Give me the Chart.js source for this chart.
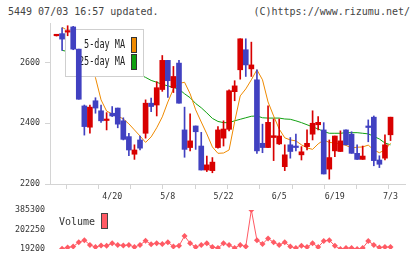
<!DOCTYPE html>
<html>
<head>
<meta charset="utf-8">
<script src="https://cdn.jsdelivr.net/npm/chart.js@4"></script>
<style>
  body { margin: 0; background: #fff; width: 420px; height: 259px; overflow: hidden; position: relative;
         font-family: "DejaVu Sans Mono", monospace; color: #444; }
  .head { position: absolute; top: 6px; font-size: 10px; line-height: 12px; white-space: pre; }
  #t1 { left: 8px; }
  #t2 { right: 10px; }
  #wrapMain { position: absolute; left: 0; top: 0; width: 420px; height: 204px; }
  #wrapVol { position: absolute; left: 0; top: 200px; width: 420px; height: 59px; }
</style>
</head>
<body>
<div class="head" id="t1">5449 07/03 16:57 updated.</div>
<div class="head" id="t2">(C)https://www.rizumu.net/</div>
<div id="wrapMain"><canvas id="main"></canvas></div>
<div id="wrapVol"><canvas id="vol"></canvas></div>

<script>
// trading days
const dates = ['4/6','4/7','4/8','4/9','4/10','4/13','4/14','4/15','4/16','4/17',
    '4/20','4/21','4/22','4/23','4/24','4/27','4/28','4/30','5/1','5/7',
    '5/8','5/11','5/12','5/13','5/14','5/15','5/18','5/19','5/20','5/21',
    '5/22','5/25','5/26','5/27','5/28','5/29','6/1','6/2','6/3','6/4',
    '6/5','6/8','6/9','6/10','6/11','6/12','6/15','6/16','6/17','6/18',
    '6/19','6/22','6/23','6/24','6/25','6/26','6/29','6/30','7/1','7/2','7/3'];

const openP = [2688,2695,2700,2717,2644,2457,2387,2474,2441,2409,
    2433,2450,2408,2356,2298,2345,2367,2466,2460,2511,
    2607,2517,2598,2378,2320,2391,2325,2246,2244,2320,
    2351,2380,2504,2576,2642,2579,2543,2334,2320,2353,
    2332,2257,2329,2325,2296,2323,2364,2395,2378,2249,
    2309,2307,2378,2364,2301,2281,2391,2420,2279,2285,2362];
const closeP = [2689,2677,2705,2644,2479,2389,2453,2450,2408,2412,
    2424,2397,2347,2312,2312,2318,2466,2455,2517,2607,
    2540,2554,2466,2314,2342,2372,2246,2263,2272,2378,
    2381,2507,2523,2678,2592,2592,2309,2320,2403,2359,
    2358,2296,2307,2320,2306,2334,2400,2403,2233,2287,
    2358,2342,2329,2301,2281,2292,2386,2277,2265,2329,2420];
const highP = [2690,2714,2721,2719,2644,2460,2460,2484,2460,2435,
    2455,2450,2418,2367,2329,2358,2477,2483,2537,2623,
    2607,2587,2607,2453,2431,2391,2370,2292,2287,2389,
    2408,2510,2540,2678,2678,2667,2576,2397,2457,2414,
    2414,2329,2353,2364,2323,2378,2441,2422,2402,2345,
    2358,2375,2378,2372,2329,2325,2411,2424,2293,2362,2420];
const lowP = [2687,2640,2688,2642,2479,2361,2367,2433,2403,2378,
    2422,2385,2345,2293,2281,2312,2351,2438,2424,2505,
    2485,2501,2466,2288,2309,2314,2246,2241,2237,2318,
    2325,2375,2474,2545,2554,2554,2301,2303,2320,2277,
    2330,2244,2285,2309,2279,2312,2345,2378,2233,2216,
    2290,2307,2329,2301,2281,2281,2339,2260,2254,2279,2343];

const ma5 = [null,2716,2705,2690,2670,2640,2600,2550,2477,2440,
    2431,2424,2414,2398,2378,2358,2337,2355,2385,2421,
    2470,2513,2531,2535,2497,2444,2404,2365,2322,2301,
    2302,2312,2405,2490,2513,2543,2576,2543,2470,2424,
    2381,2352,2345,2342,2329,2319,2314,2332,2345,2337,
    2335,2332,2327,2319,2321,2322,2328,2312,2303,2312,2334];
const ma25 = [null,2640,2636,2631,2625,2618,2611,2604,2597,2590,
    2584,2578,2572,2567,2563,2559,2551,2541,2535,2528,
    2523,2518,2512,2497,2484,2465,2451,2434,2416,2406,
    2402,2402,2408,2413,2418,2423,2424,2418,2417,2417,
    2417,2414,2413,2408,2402,2395,2388,2381,2373,2367,
    2367,2367,2369,2369,2369,2367,2365,2357,2348,2335,2329];

const volume = [null,21900,33500,42400,81700,102200,57600,37100,51300,48700,
    72800,57600,51300,57600,37100,57600,96000,63800,72800,66500,
    81700,42400,48700,140600,72800,37100,57600,72800,37100,28100,
    72800,57600,28100,57600,42400,385300,102200,66500,117400,81700,
    57600,81700,42400,28100,48700,37100,72800,37100,93300,102200,
    48700,19200,28100,28100,19200,28100,93300,57600,33500,37100,37100];

const tickDates = ['4/20','5/8','5/22','6/5','6/19','7/3'];
const priceTicks = [2200, 2400, 2600];
const volTicks = [19200, 202250, 385300];

const RED = '#d80000';
const BLUE = '#4141c1';
const ORANGE = '#ef8a00';
const GREEN = '#10a010';
const VOLCOL = '#ff5a64';
const AXIS = '#d4d4d4';
const TXT = '#333';
const MONO = 'DejaVu Sans Mono';

const xMin = -1.17, xMax = 62.6;
const labelPos = tickDates.map(d => dates.indexOf(d));
const gridPos = [];
for (let k = 0; k <= 11; k++) gridPos.push(xMin + k * (xMax - xMin) / 11);

const upDown = i => closeP[i] >= openP[i] ? RED : BLUE;

const legendBox = {
    id: 'legendBox',
    afterDatasetDraw(chart, args) {
        if (chart.data.datasets[args.index].label !== '5-day MA') return;
        const ctx = chart.ctx;
        ctx.save();
        ctx.fillStyle = '#fff';
        ctx.strokeStyle = '#cfcfcf';
        ctx.lineWidth = 1;
        ctx.fillRect(65.5, 29.5, 78, 47);
        ctx.strokeRect(65.5, 29.5, 78, 47);
        const rows = [['5-day MA', ORANGE, 45.5], ['25-day MA', GREEN, 62.5]];
        rows.forEach(r => {
            ctx.save();
            ctx.translate(125, r[2]);
            ctx.scale(0.74, 1);
            ctx.font = '11.5px "' + MONO + '"';
            ctx.fillStyle = '#222';
            ctx.textAlign = 'right';
            ctx.textBaseline = 'middle';
            ctx.fillText(r[0], 0, 0);
            ctx.restore();
            ctx.fillStyle = r[1];
            ctx.strokeStyle = '#333';
            ctx.fillRect(131.5, r[2] - 8, 5, 15);
            ctx.strokeRect(131.5, r[2] - 8, 5, 15);
        });
        ctx.restore();
    }
};

new Chart(document.getElementById('main'), {
    type: 'bar',
    data: {
        datasets: [
            {
                label: 'wick',
                data: dates.map((d, i) => ({ x: i, y: [lowP[i], highP[i]] })),
                backgroundColor: ctx => upDown(ctx.dataIndex),
                barThickness: 1,
                grouped: false,
                order: 1
            },
            {
                label: 'body',
                data: dates.map((d, i) => ({ x: i, y: [openP[i], closeP[i]] })),
                backgroundColor: ctx => upDown(ctx.dataIndex),
                barThickness: 5,
                minBarLength: 1.5,
                grouped: false,
                order: 0
            },
            {
                type: 'line',
                label: '5-day MA',
                data: ma5.map((v, i) => ({ x: i, y: v })),
                borderColor: ORANGE,
                borderWidth: 1,
                pointRadius: 0,
                order: 2
            },
            {
                type: 'line',
                label: '25-day MA',
                data: ma25.map((v, i) => ({ x: i, y: v })),
                borderColor: GREEN,
                borderWidth: 1,
                pointRadius: 0,
                order: 3
            }
        ]
    },
    options: {
        responsive: true,
        maintainAspectRatio: false,
        animation: false,
        layout: { padding: { top: 23, right: 15, left: 0, bottom: 0 } },
        plugins: { legend: { display: false }, tooltip: { enabled: false } },
        scales: {
            x: {
                type: 'linear',
                min: xMin,
                max: xMax,
                offset: false,
                afterFit: s => { s.height = 20; },
                afterBuildTicks: s => {
                    s.ticks = gridPos.concat(labelPos).map(v => ({ value: v }));
                },
                border: { color: AXIS },
                grid: {
                    drawOnChartArea: false,
                    tickLength: 5,
                    tickColor: c => (c.tick && labelPos.includes(c.tick.value)) ? 'rgba(0,0,0,0)' : AXIS
                },
                ticks: {
                    autoSkip: false,
                    maxRotation: 0,
                    padding: 3,
                    color: TXT,
                    font: { family: MONO, size: 8.3 },
                    callback: v => {
                        const k = labelPos.indexOf(v);
                        return k >= 0 ? tickDates[k] : '';
                    }
                }
            },
            y: {
                min: 2200,
                max: 2730,
                afterFit: s => { s.width = 50; },
                afterBuildTicks: s => { s.ticks = priceTicks.map(v => ({ value: v })); },
                border: { color: AXIS },
                grid: { drawOnChartArea: false, tickLength: 5, tickColor: AXIS },
                ticks: { padding: 5, color: TXT, font: { family: MONO, size: 8.3 }, callback: v => String(v) }
            }
        }
    },
    plugins: [legendBox]
});

const volLegend = {
    id: 'volLegend',
    afterDraw(chart) {
        const ctx = chart.ctx;
        ctx.save();
        ctx.font = '10px "' + MONO + '"';
        ctx.fillStyle = TXT;
        ctx.textBaseline = 'middle';
        ctx.fillText('Volume', 59, 22);
        ctx.fillStyle = VOLCOL;
        ctx.strokeStyle = '#444';
        ctx.lineWidth = 1;
        ctx.fillRect(101.5, 13.5, 6, 15);
        ctx.strokeRect(101.5, 13.5, 6, 15);
        ctx.restore();
    }
};

new Chart(document.getElementById('vol'), {
    type: 'line',
    data: {
        datasets: [{
            label: 'Volume',
            data: volume.map((v, i) => ({ x: i, y: v })),
            borderColor: VOLCOL,
            backgroundColor: VOLCOL,
            borderWidth: 1,
            pointStyle: 'rectRot',
            pointRadius: 3,
            pointBorderWidth: 0
        }]
    },
    options: {
        responsive: true,
        maintainAspectRatio: false,
        animation: false,
        layout: { padding: { top: 8, right: 15, left: 0, bottom: 10 } },
        plugins: { legend: { display: false }, tooltip: { enabled: false } },
        scales: {
            x: { type: 'linear', min: xMin, max: xMax, display: false },
            y: {
                min: 19200,
                max: 385300,
                afterFit: s => { s.width = 50; },
                afterBuildTicks: s => { s.ticks = volTicks.map(v => ({ value: v })); },
                border: { display: false },
                grid: { display: false, drawTicks: false, tickLength: 0 },
                ticks: { padding: 5, color: TXT, font: { family: MONO, size: 8.3 }, callback: v => String(v) }
            }
        }
    },
    plugins: [volLegend]
});
</script>
</body>
</html>
